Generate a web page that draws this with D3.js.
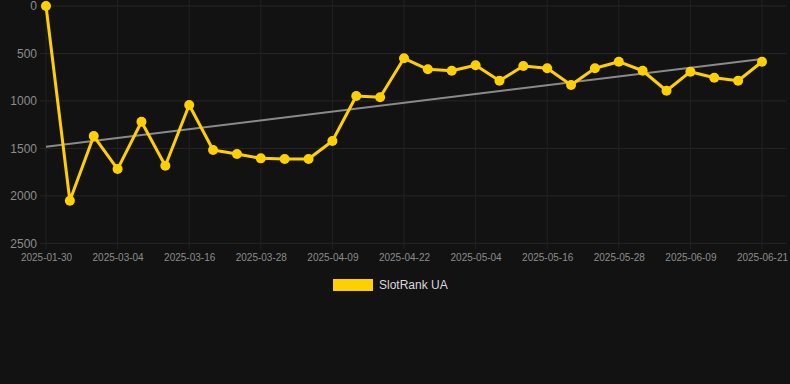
<!DOCTYPE html>
<html>
<head>
<meta charset="utf-8">
<script src="https://cdn.jsdelivr.net/npm/d3@7"></script>
<style>
  html, body { margin: 0; padding: 0; background: #121212; }
  svg { display: block; font-family: "Liberation Sans", Arial, sans-serif; }
</style>
</head>
<body>
<svg id="chart" width="790" height="384"></svg>
<script>
// categories (x axis, one per point)
var dates = ["2025-01-30", "2025-02-20", "2025-02-28", "2025-03-04", "2025-03-08", "2025-03-12",
  "2025-03-16", "2025-03-20", "2025-03-24", "2025-03-28", "2025-04-01", "2025-04-05",
  "2025-04-09", "2025-04-13", "2025-04-17", "2025-04-22", "2025-04-26", "2025-04-30",
  "2025-05-04", "2025-05-08", "2025-05-12", "2025-05-16", "2025-05-20", "2025-05-24",
  "2025-05-28", "2025-06-01", "2025-06-05", "2025-06-09", "2025-06-13", "2025-06-17",
  "2025-06-21"];
// rank values, SlotRank UA
var rankUA = [0, 2052, 1370, 1718, 1219, 1683, 1043, 1517, 1560, 1605, 1612, 1612,
  1423, 948, 962, 551, 667, 682, 625, 787, 632, 656, 832, 656, 587, 682, 893, 692,
  756, 787, 587];
// trend line, value at first and last category
var trend = [1483, 558];
var yTicks = [0, 500, 1000, 1500, 2000, 2500];
var xTickLabels = ["2025-01-30", "2025-03-04", "2025-03-16", "2025-03-28", "2025-04-09",
  "2025-04-22", "2025-05-04", "2025-05-16", "2025-05-28", "2025-06-09", "2025-06-21"];
var seriesName = "SlotRank UA";

var svg = d3.select("#chart");
var gold = "#ffd000";

var x = d3.scalePoint().domain(dates).range([46, 762]);
var y = d3.scaleLinear().domain([0, 2500]).range([6, 243.3]);

// grid
var grid = svg.append("g");
grid.selectAll("line.h").data(yTicks).enter().append("line")
  .attr("x1", 40).attr("x2", 786)
  .attr("y1", function (d) { return y(d); }).attr("y2", function (d) { return y(d); })
  .attr("stroke", "#262626").attr("stroke-width", 1);
grid.selectAll("line.v").data(xTickLabels).enter().append("line")
  .attr("x1", function (d) { return x(d); }).attr("x2", function (d) { return x(d); })
  .attr("y1", 0).attr("y2", 249)
  .attr("stroke", "#222222").attr("stroke-width", 1);

// y axis labels
var yAxis = svg.append("g").attr("transform", "translate(40,0)")
  .call(d3.axisLeft(y).tickValues(yTicks).tickFormat(d3.format("d")).tickSize(0).tickPadding(3));
yAxis.select(".domain").remove();
yAxis.selectAll("text").attr("fill", "#8c8c8c").style("font-size", "12px")
  .style("font-family", "Liberation Sans, Arial, sans-serif");

// x axis labels
var xAxis = svg.append("g").attr("transform", "translate(0,249)")
  .call(d3.axisBottom(x).tickValues(xTickLabels).tickSize(0).tickPadding(5));
xAxis.select(".domain").remove();
xAxis.selectAll("text").attr("fill", "#8c8c8c").style("font-size", "10px")
  .style("font-family", "Liberation Sans, Arial, sans-serif");

// trend line
svg.append("line")
  .attr("x1", x(dates[0])).attr("y1", y(trend[0]))
  .attr("x2", x(dates[dates.length - 1])).attr("y2", y(trend[1]))
  .attr("stroke", "#8a8a8a").attr("stroke-width", 2);

// series line
var line = d3.line()
  .x(function (d, i) { return x(dates[i]); })
  .y(function (d) { return y(d); });
svg.append("path").datum(rankUA)
  .attr("d", line)
  .attr("fill", "none").attr("stroke", gold).attr("stroke-width", 3)
  .attr("stroke-linejoin", "round");

svg.selectAll("circle.pt").data(rankUA).enter().append("circle")
  .attr("cx", function (d, i) { return x(dates[i]); })
  .attr("cy", function (d) { return y(d); })
  .attr("r", 5)
  .attr("fill", gold);

// legend
var legend = svg.append("g").attr("transform", "translate(333,279)");
legend.append("rect").attr("width", 40).attr("height", 12).attr("fill", gold);
legend.append("text").attr("x", 46).attr("y", 10)
  .attr("fill", "#d9d9d9").style("font-size", "12px")
  .text(seriesName);
</script>
</body>
</html>
